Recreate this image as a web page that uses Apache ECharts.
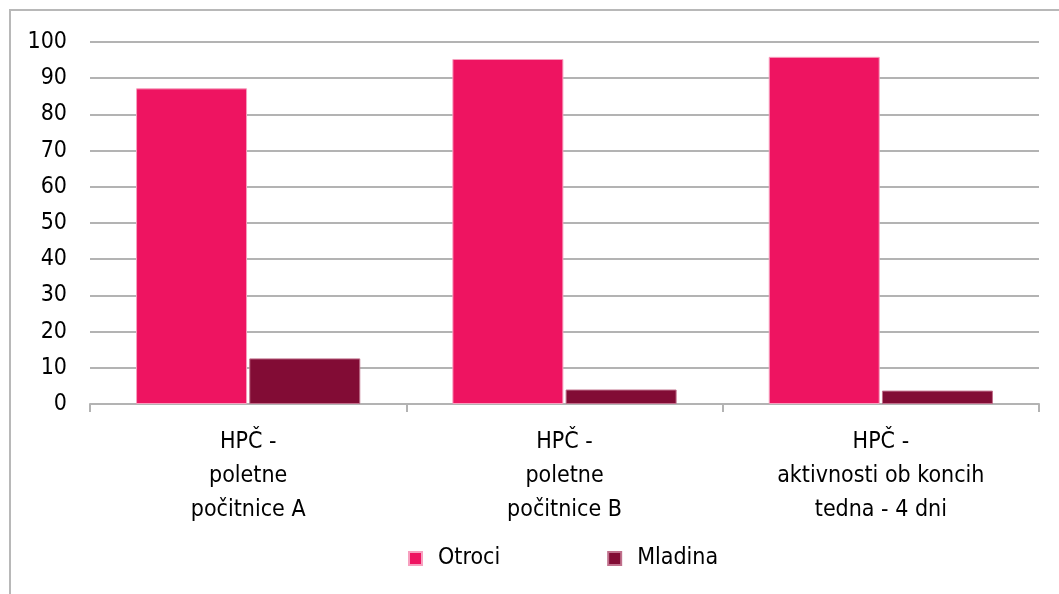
<!DOCTYPE html>
<html><head><meta charset="utf-8">
<script src="https://cdn.jsdelivr.net/npm/echarts@6/dist/echarts.min.js"></script>
<style>html,body{margin:0;padding:0;background:#fff}#c{width:1059px;height:594px}</style>
</head><body><div id="c"></div>
<script>
var categories = ['HPČ -\npoletne\npočitnice A', 'HPČ -\npoletne\npočitnice B', 'HPČ -\naktivnosti ob koncih\ntedna - 4 dni'];
var otroci = [87.2, 95.3, 95.9];
var mladina = [12.6, 4.0, 3.7];
var yTicks = [0, 10, 20, 30, 40, 50, 60, 70, 80, 90, 100];

var font = "'Liberation Sans Narrow', 'DejaVu Sans Condensed', sans-serif";
var chart = echarts.init(document.getElementById('c'), null, {renderer: 'canvas'});
chart.setOption({
  animation: false,
  textStyle: {fontFamily: font},
  graphic: [{type: 'rect', shape: {x: 10, y: 10, width: 1100, height: 700}, style: {fill: 'none', stroke: '#b8b8b8', lineWidth: 2}}],
  grid: {left: 90, right: 20, top: 42, bottom: 190, containLabel: false},
  legend: {
    bottom: 24, left: 408, padding: 0, itemWidth: 13, itemHeight: 13, itemGap: 107,
    icon: 'rect',
    textStyle: {fontSize: 23, color: '#000', fontFamily: font, padding: [0, 0, 0, 11]},
    data: ['Otroci', 'Mladina']
  },
  xAxis: {
    type: 'category', data: categories,
    axisLine: {lineStyle: {color: '#b3b3b3', width: 2}},
    axisTick: {show: true, length: 8, lineStyle: {color: '#b3b3b3', width: 2}},
    axisLabel: {fontSize: 23, color: '#000', lineHeight: 34, margin: 21, fontFamily: font, interval: 0}
  },
  yAxis: {
    type: 'value', min: yTicks[0], max: yTicks[yTicks.length - 1], interval: 10,
    axisLine: {show: false}, axisTick: {show: false},
    splitLine: {lineStyle: {color: '#b3b3b3', width: 2}},
    axisLabel: {fontSize: 23, color: '#000', margin: 23, fontFamily: font}
  },
  series: [
    {name: 'Otroci', type: 'bar', data: otroci, barWidth: 111, barGap: '2%',
     itemStyle: {color: '#EE1461', borderColor: '#f7a0bf', borderWidth: 1}},
    {name: 'Mladina', type: 'bar', data: mladina, barWidth: 111,
     itemStyle: {color: '#820C35', borderColor: '#c0708c', borderWidth: 1}}
  ]
});
</script></body></html>
